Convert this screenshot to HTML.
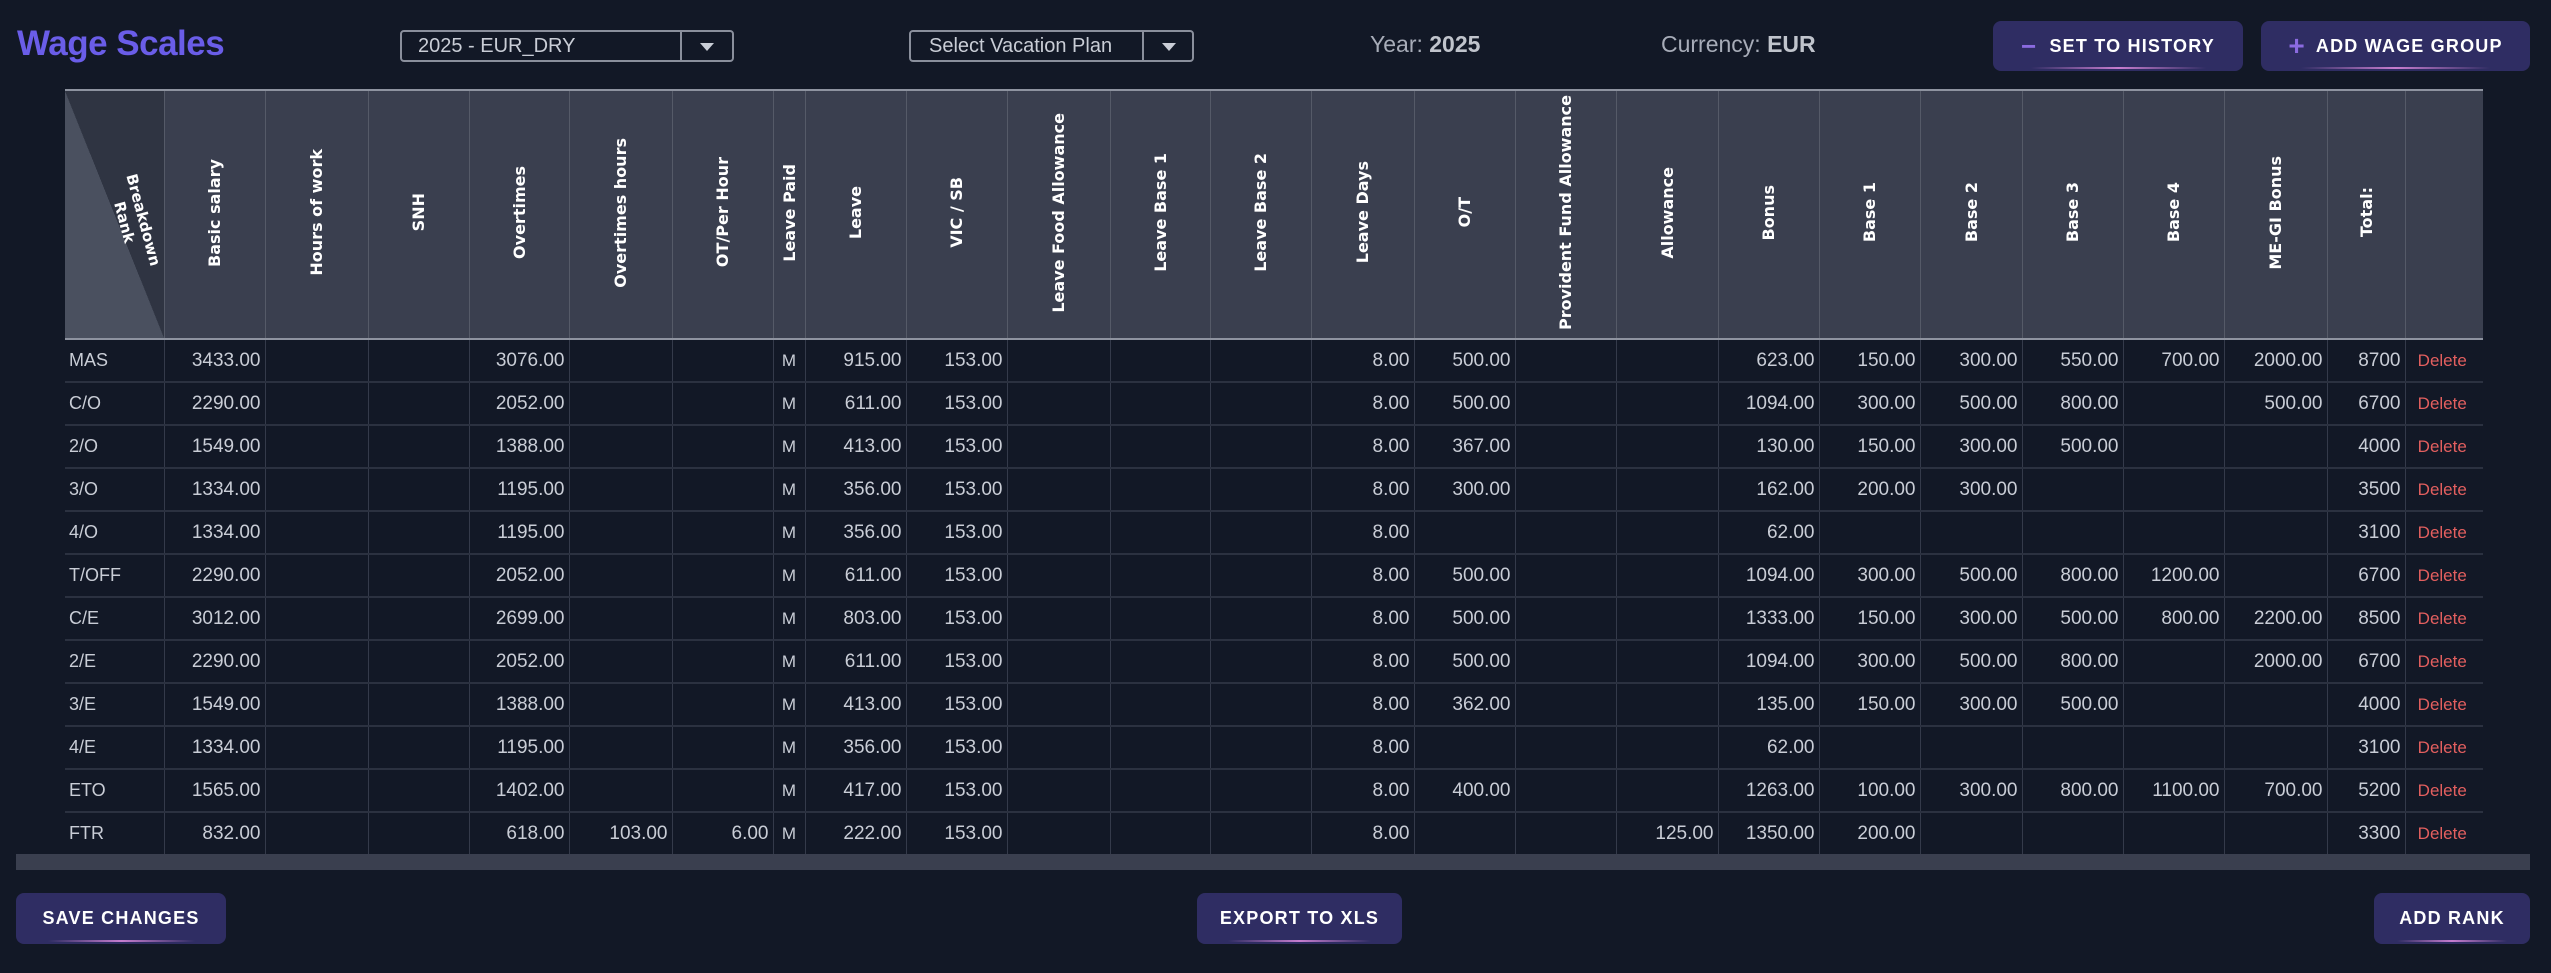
<!DOCTYPE html>
<html><head><meta charset="utf-8"><style>
*{box-sizing:border-box;margin:0;padding:0}
body{width:2551px;height:973px;background:#121826;font-family:"Liberation Sans",sans-serif;position:relative;overflow:hidden;color:#c9cdd6}
.abs{position:absolute}
.title{left:17px;top:24px;font-size:35px;font-weight:bold;color:#6a5de8;letter-spacing:-0.5px}
.dd{border:2px solid #8a8f9c;border-radius:4px;height:32px;top:30px;font-size:20px;color:#c9cdd6;line-height:28px;padding-left:16px}
.dd .div{position:absolute;top:0;bottom:0;border-left:2px solid #8a8f9c}
.dd .arr{position:absolute;top:11px;width:0;height:0;border-left:7px solid transparent;border-right:7px solid transparent;border-top:8px solid #c9cdd6}
.lbl{top:31px;font-size:23px;color:#a7acb8}
.lbl b{color:#c0c4cc}
.btn{background:#2f2d63;border-radius:8px;color:#fff;font-weight:bold;font-size:18px;letter-spacing:1.2px;display:flex;align-items:center;justify-content:center;overflow:hidden}
.btn:after{content:"";position:absolute;bottom:2px;left:15%;right:15%;height:2px;background:linear-gradient(90deg,transparent,#c77dce,transparent)}
table{position:absolute;left:65px;top:89px;border-collapse:collapse;table-layout:fixed;width:2418px}
th{height:249px;background:#3a3f4f;border-left:1px solid #555a68;border-top:2px solid #8e93a0;border-bottom:2px solid #8e93a0;color:#fff;font-family:"DejaVu Sans",sans-serif;font-weight:bold;font-size:16px;vertical-align:middle;padding:0}
th span{writing-mode:vertical-rl;transform:rotate(180deg);display:inline-block;white-space:nowrap}
th:first-child{border-left:none;background:linear-gradient(to top right,#4a505f 0,#4a505f 50%,#2f3442 50%,#2f3442 100%);position:relative}
td{height:43px;border-left:1px solid #343a4a;border-bottom:2px solid #2b3140;font-size:19px;text-align:right;padding-right:4px;white-space:nowrap;overflow:hidden}
td:first-child{border-left:none;text-align:left;padding-left:4px;font-size:18px}
td.c{text-align:center;padding:0;font-size:17px}
td.del{color:#e35f5f;font-size:17px;text-align:center}
</style></head><body>
<div class="abs title">Wage Scales</div>
<div class="abs dd" style="left:400px;width:334px">2025 - EUR_DRY<div class="div" style="left:278px"></div><div class="arr" style="left:298px"></div></div>
<div class="abs dd" style="left:909px;width:285px;padding-left:18px">Select Vacation Plan<div class="div" style="left:231px"></div><div class="arr" style="left:251px"></div></div>
<div class="abs lbl" style="left:1370px">Year: <b>2025</b></div>
<div class="abs lbl" style="left:1661px">Currency: <b>EUR</b></div>
<div class="abs btn" style="left:1993px;top:21px;width:250px;height:50px"><span style="color:#8b6be0;font-size:26px;margin-right:12px">−</span>SET TO HISTORY</div>
<div class="abs btn" style="left:2261px;top:21px;width:269px;height:50px"><span style="color:#8b6be0;font-size:28px;margin-right:10px">+</span>ADD WAGE GROUP</div>

<table>
<colgroup><col style="width:99px"><col style="width:101px"><col style="width:103px"><col style="width:101px"><col style="width:100px"><col style="width:103px"><col style="width:101px"><col style="width:32px"><col style="width:101px"><col style="width:101px"><col style="width:103px"><col style="width:100px"><col style="width:101px"><col style="width:103px"><col style="width:101px"><col style="width:101px"><col style="width:102px"><col style="width:101px"><col style="width:101px"><col style="width:102px"><col style="width:101px"><col style="width:101px"><col style="width:103px"><col style="width:78px"><col style="width:78px"></colgroup>
<tr><th><span style="position:absolute;left:18px;top:110px;transform:rotate(75deg);writing-mode:horizontal-tb;font-size:15px;line-height:19px">&nbsp;Breakdown<br>Rank</span></th><th><span>Basic salary</span></th><th><span>Hours of work</span></th><th><span>SNH</span></th><th><span>Overtimes</span></th><th><span>Overtimes hours</span></th><th><span>OT/Per Hour</span></th><th><span>Leave Paid</span></th><th><span>Leave</span></th><th><span>VIC / SB</span></th><th><span>Leave Food Allowance</span></th><th><span>Leave Base 1</span></th><th><span>Leave Base 2</span></th><th><span>Leave Days</span></th><th><span>O/T</span></th><th><span>Provident Fund Allowance</span></th><th><span>Allowance</span></th><th><span>Bonus</span></th><th><span>Base 1</span></th><th><span>Base 2</span></th><th><span>Base 3</span></th><th><span>Base 4</span></th><th><span>ME-GI Bonus</span></th><th><span>Total:</span></th><th></th></tr>
<tr><td>MAS</td><td>3433.00</td><td></td><td></td><td>3076.00</td><td></td><td></td><td class="c">M</td><td>915.00</td><td>153.00</td><td></td><td></td><td></td><td>8.00</td><td>500.00</td><td></td><td></td><td>623.00</td><td>150.00</td><td>300.00</td><td>550.00</td><td>700.00</td><td>2000.00</td><td>8700</td><td class="del">Delete</td></tr>
<tr><td>C/O</td><td>2290.00</td><td></td><td></td><td>2052.00</td><td></td><td></td><td class="c">M</td><td>611.00</td><td>153.00</td><td></td><td></td><td></td><td>8.00</td><td>500.00</td><td></td><td></td><td>1094.00</td><td>300.00</td><td>500.00</td><td>800.00</td><td></td><td>500.00</td><td>6700</td><td class="del">Delete</td></tr>
<tr><td>2/O</td><td>1549.00</td><td></td><td></td><td>1388.00</td><td></td><td></td><td class="c">M</td><td>413.00</td><td>153.00</td><td></td><td></td><td></td><td>8.00</td><td>367.00</td><td></td><td></td><td>130.00</td><td>150.00</td><td>300.00</td><td>500.00</td><td></td><td></td><td>4000</td><td class="del">Delete</td></tr>
<tr><td>3/O</td><td>1334.00</td><td></td><td></td><td>1195.00</td><td></td><td></td><td class="c">M</td><td>356.00</td><td>153.00</td><td></td><td></td><td></td><td>8.00</td><td>300.00</td><td></td><td></td><td>162.00</td><td>200.00</td><td>300.00</td><td></td><td></td><td></td><td>3500</td><td class="del">Delete</td></tr>
<tr><td>4/O</td><td>1334.00</td><td></td><td></td><td>1195.00</td><td></td><td></td><td class="c">M</td><td>356.00</td><td>153.00</td><td></td><td></td><td></td><td>8.00</td><td></td><td></td><td></td><td>62.00</td><td></td><td></td><td></td><td></td><td></td><td>3100</td><td class="del">Delete</td></tr>
<tr><td>T/OFF</td><td>2290.00</td><td></td><td></td><td>2052.00</td><td></td><td></td><td class="c">M</td><td>611.00</td><td>153.00</td><td></td><td></td><td></td><td>8.00</td><td>500.00</td><td></td><td></td><td>1094.00</td><td>300.00</td><td>500.00</td><td>800.00</td><td>1200.00</td><td></td><td>6700</td><td class="del">Delete</td></tr>
<tr><td>C/E</td><td>3012.00</td><td></td><td></td><td>2699.00</td><td></td><td></td><td class="c">M</td><td>803.00</td><td>153.00</td><td></td><td></td><td></td><td>8.00</td><td>500.00</td><td></td><td></td><td>1333.00</td><td>150.00</td><td>300.00</td><td>500.00</td><td>800.00</td><td>2200.00</td><td>8500</td><td class="del">Delete</td></tr>
<tr><td>2/E</td><td>2290.00</td><td></td><td></td><td>2052.00</td><td></td><td></td><td class="c">M</td><td>611.00</td><td>153.00</td><td></td><td></td><td></td><td>8.00</td><td>500.00</td><td></td><td></td><td>1094.00</td><td>300.00</td><td>500.00</td><td>800.00</td><td></td><td>2000.00</td><td>6700</td><td class="del">Delete</td></tr>
<tr><td>3/E</td><td>1549.00</td><td></td><td></td><td>1388.00</td><td></td><td></td><td class="c">M</td><td>413.00</td><td>153.00</td><td></td><td></td><td></td><td>8.00</td><td>362.00</td><td></td><td></td><td>135.00</td><td>150.00</td><td>300.00</td><td>500.00</td><td></td><td></td><td>4000</td><td class="del">Delete</td></tr>
<tr><td>4/E</td><td>1334.00</td><td></td><td></td><td>1195.00</td><td></td><td></td><td class="c">M</td><td>356.00</td><td>153.00</td><td></td><td></td><td></td><td>8.00</td><td></td><td></td><td></td><td>62.00</td><td></td><td></td><td></td><td></td><td></td><td>3100</td><td class="del">Delete</td></tr>
<tr><td>ETO</td><td>1565.00</td><td></td><td></td><td>1402.00</td><td></td><td></td><td class="c">M</td><td>417.00</td><td>153.00</td><td></td><td></td><td></td><td>8.00</td><td>400.00</td><td></td><td></td><td>1263.00</td><td>100.00</td><td>300.00</td><td>800.00</td><td>1100.00</td><td>700.00</td><td>5200</td><td class="del">Delete</td></tr>
<tr><td>FTR</td><td>832.00</td><td></td><td></td><td>618.00</td><td>103.00</td><td>6.00</td><td class="c">M</td><td>222.00</td><td>153.00</td><td></td><td></td><td></td><td>8.00</td><td></td><td></td><td>125.00</td><td>1350.00</td><td>200.00</td><td></td><td></td><td></td><td></td><td>3300</td><td class="del">Delete</td></tr>
</table>
<div class="abs" style="left:16px;top:854px;width:2514px;height:16px;background:#3a3f4f"></div>
<div class="abs btn" style="left:16px;top:893px;width:210px;height:51px">SAVE CHANGES</div>
<div class="abs btn" style="left:1197px;top:893px;width:205px;height:51px">EXPORT TO XLS</div>
<div class="abs btn" style="left:2374px;top:893px;width:156px;height:51px">ADD RANK</div>
</body></html>
